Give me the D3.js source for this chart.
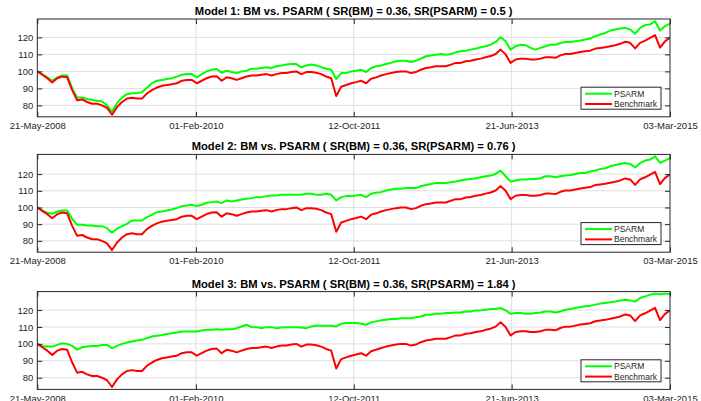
<!DOCTYPE html>
<html>
<head>
<meta charset="utf-8">
<script src="https://cdn.jsdelivr.net/npm/d3@7"></script>
<style>
  html, body { margin: 0; padding: 0; background: #fff; }
  svg { display: block; font-family: "Liberation Sans", Arial, Helvetica, sans-serif; }
</style>
</head>
<body>
<svg id="chart" width="701" height="401"></svg>
<script>
// Axis labels
const xTickLabels = ["21-May-2008", "01-Feb-2010", "12-Oct-2011", "21-Jun-2013", "03-Mar-2015"];
const yTicks = [80, 90, 100, 110, 120];
const seriesNames = ["PSARM", "Benchmark"];

// Sharpe ratios shown in the panel titles
const srBM = 0.36;
const srPSARM = [0.5, 0.76, 1.84];

// y-limits of each panel
const yLow = [73.3, 73.2, 73.1];
const yHigh = [130.8, 131.8, 130.9];

// Wealth paths (start = 100), sampled evenly from 21-May-2008 to 03-Mar-2015
const benchmark = [
  100, 98, 96, 93.5, 96, 97, 96.5, 89, 83, 83.5, 82, 81, 81, 80, 78.5, 74.5,
  79, 82, 84, 84.5, 84, 84, 87, 89, 90.5, 91.5, 92, 92.5, 93, 94.5, 95, 95,
  93, 94.5, 96, 97, 97.2, 94.5, 96.5, 96, 95, 96, 97, 97.6, 97.6, 98, 98.4, 97.6,
  98.4, 99, 99, 99.6, 100, 98.4, 99.6, 99.6, 99.2, 98.4, 97, 96, 85.5, 91, 92, 93,
  93.7, 94.5, 93, 95.7, 96.5, 97.6, 98.4, 99, 99.6, 100, 100, 99, 99.6, 101, 102, 102.4,
  103, 103, 103, 104, 105, 105, 106, 106.3, 107, 107.5, 108.3, 109, 110.2, 112.8, 110, 105,
  107, 107.5, 107.5, 107, 107, 107.5, 108.3, 108.3, 108, 109.4, 110.2, 110.2, 110.8, 111.4, 111.8, 112.2,
  113.4, 113.8, 114.2, 114.8, 115.4, 116.2, 117.4, 116.8, 113.5, 116.8, 118.1, 119.7, 121.3, 114, 117.7, 119.7
];

const psarm1 = [
  100, 98.4, 96.5, 94.5, 96.5, 97.6, 97.6, 90, 84.6, 84.6, 83.8, 83.2, 82.7, 82.3, 80, 76.4,
  81.3, 84.6, 86.6, 87.2, 87.2, 87.8, 90.2, 93.1, 94.5, 95, 95.5, 96, 96.9, 98, 98.4, 98.4,
  96.5, 98.4, 100, 101, 101.4, 99.2, 100.4, 99.6, 99, 100, 100.4, 101.6, 101.6, 102, 102.4, 102,
  103, 103.5, 104, 104.3, 104.3, 102.4, 103.5, 104, 103.5, 102.4, 101.6, 101, 95.5, 99, 99, 100,
  100.4, 101, 99.6, 102, 103, 103.5, 104.3, 105, 106, 106.3, 106.3, 105.5, 106.3, 107.5, 108.9, 109.4,
  109.8, 110.2, 109.8, 110.2, 111.2, 111.8, 112.2, 112.8, 113.4, 114.2, 114.8, 115.7, 117.3, 120.1, 117.7, 112.8,
  114.8, 115.7, 115.4, 113.8, 112.8, 113.8, 114.8, 115.7, 115.7, 116.7, 117.3, 117.3, 117.7, 118.1, 118.7, 119.3,
  120.7, 121.7, 122.6, 124, 124.6, 125.2, 125.6, 124.6, 122.2, 125.6, 127.2, 127.6, 129.5, 124, 126.6, 128
];

const psarm2 = [
  100, 98.2, 96.8, 96.2, 97.6, 98.2, 98.2, 93.2, 89.6, 89.6, 89.2, 89.2, 88.8, 88.8, 87.6, 84.9,
  87.3, 88.8, 90.2, 92.2, 92.2, 92.2, 94.2, 95.6, 97.2, 97.6, 98.2, 98.8, 99.6, 100.8, 101.2, 101.6,
  100.8, 101.6, 102.8, 103.2, 103.6, 102.6, 104.2, 103.6, 104.2, 104.8, 105.2, 105.6, 106.2, 106.2, 106.8, 107.2,
  107.2, 107.6, 107.6, 107.6, 107.6, 107.6, 108.2, 108.2, 107.6, 107.6, 108.2, 107.6, 104.2, 106.2, 106.8, 106.8,
  107.2, 107.6, 106.2, 108.2, 108.8, 109.2, 110.2, 110.8, 111.2, 111.2, 111.6, 111.6, 111.6, 112.7, 113.5, 114.1,
  114.7, 114.7, 114.7, 115.1, 115.5, 116.1, 116.7, 117.1, 117.5, 118.1, 118.7, 119.1, 120.1, 122.1, 118.7, 115.5,
  116.1, 116.7, 116.7, 117.1, 117.1, 117.5, 118.7, 118.7, 118.1, 118.7, 119.1, 119.5, 120.1, 120.7, 120.7, 121.5,
  122.1, 123.1, 123.5, 124.7, 125.5, 126.1, 126.7, 126.1, 124, 126.7, 128.1, 128.7, 130.7, 126.7, 128.1, 129.5
];

const psarm3 = [
  100, 98.8, 98.4, 98.4, 99.4, 100.4, 100, 98.8, 96.6, 98, 98.4, 98.8, 98.8, 99.4, 99.4, 97.4,
  98.8, 100, 100.8, 101.4, 102, 102.4, 103.4, 104.4, 104.8, 105.3, 105.9, 106.3, 106.7, 107.3, 107.3, 107.3,
  107.3, 107.9, 108.3, 108.3, 108.7, 108.3, 108.7, 108.7, 109.3, 110.3, 111.3, 109.9, 109.9, 109.3, 109.9, 109.9,
  109.3, 109.7, 109.9, 109.9, 109.9, 109.7, 109.3, 110.3, 110.7, 110.7, 110.7, 110.7, 110.3, 111.9, 112.3, 112.3,
  112.3, 111.9, 111.3, 112.7, 113.3, 113.9, 114.3, 114.7, 114.7, 115.2, 115.2, 115.2, 115.8, 116.2, 117.2, 117.2,
  117.8, 117.8, 118.2, 118.2, 118.6, 118.6, 119.2, 119.2, 119.8, 119.8, 120.2, 120.6, 120.6, 121.2, 119.8, 117.8,
  118.2, 118.2, 117.8, 117.8, 118.2, 118.6, 119.2, 119.2, 118.6, 119.2, 120.2, 120.6, 121.2, 121.8, 122.2, 122.6,
  123.2, 123.8, 124.2, 124.6, 125.1, 125.7, 126.1, 125.7, 125, 127.1, 128.1, 129.1, 129.7, 129.3, 129.7, 129.3
];

const psarmSeries = [psarm1, psarm2, psarm3];

// ---------- layout ----------
const svg = d3.select("#chart");
const left = 37.3, right = 670;
const panelTops = [19, 154.4, 291.6];
const panelH = 97.8;

const parseTick = d3.timeParse("%d-%b-%Y");
const fmtTick = d3.timeFormat("%d-%b-%Y");
const tickDates = xTickLabels.map(parseTick);
const t0 = tickDates[0], t1 = tickDates[tickDates.length - 1];
const n = benchmark.length;
const dates = d3.range(n).map(i => new Date(+t0 + (t1 - t0) * i / (n - 1)));

const x = d3.scaleTime().domain([t0, t1]).range([left, right]);

const axisColor = "#262626";
const gridColor = "#dfdfdf";

psarmSeries.forEach((ps, p) => {
  const top = panelTops[p], bottom = top + panelH;
  const y = d3.scaleLinear().domain([yLow[p], yHigh[p]]).range([bottom, top]);
  const g = svg.append("g");

  const clipId = "clip" + p;
  svg.append("clipPath").attr("id", clipId)
    .append("rect").attr("x", left).attr("y", top)
    .attr("width", right - left).attr("height", panelH);

  // grid
  g.append("g").selectAll("line").data(yTicks).join("line")
    .attr("x1", left).attr("x2", right)
    .attr("y1", d => y(d)).attr("y2", d => y(d))
    .attr("stroke", gridColor).attr("stroke-width", 1);
  g.append("g").selectAll("line").data(tickDates.slice(1, -1)).join("line")
    .attr("y1", top).attr("y2", bottom)
    .attr("x1", d => x(d)).attr("x2", d => x(d))
    .attr("stroke", gridColor).attr("stroke-width", 1);

  // series
  const line = d3.line().x((d, i) => x(dates[i])).y(d => y(d));
  const lines = g.append("g").attr("clip-path", `url(#${clipId})`);
  lines.append("path").datum(ps).attr("d", line)
    .attr("fill", "none").attr("stroke", "#00ff00").attr("stroke-width", 2)
    .attr("stroke-linejoin", "round");
  lines.append("path").datum(benchmark).attr("d", line)
    .attr("fill", "none").attr("stroke", "#ff0000").attr("stroke-width", 2)
    .attr("stroke-linejoin", "round");

  // axes (ticks point inward)
  const styleAxis = sel => {
    sel.select(".domain").remove();
    sel.selectAll(".tick line").attr("stroke", axisColor);
    sel.selectAll(".tick text").attr("fill", axisColor)
      .style("font-size", "9.5px").style("font-family", "'Liberation Sans', Arial, sans-serif");
  };
  g.append("g").attr("transform", `translate(0,${bottom})`)
    .call(d3.axisBottom(x).tickValues(tickDates).tickFormat(fmtTick).tickSize(-5).tickPadding(5.5))
    .call(styleAxis);
  g.append("g").attr("transform", `translate(0,${top})`)
    .call(d3.axisTop(x).tickValues(tickDates).tickFormat("").tickSize(-5))
    .call(styleAxis);
  g.append("g").attr("transform", `translate(${left},0)`)
    .call(d3.axisLeft(y).tickValues(yTicks).tickSize(-5).tickPadding(4))
    .call(styleAxis);
  g.append("g").attr("transform", `translate(${right},0)`)
    .call(d3.axisRight(y).tickValues(yTicks).tickFormat("").tickSize(-5))
    .call(styleAxis);

  // box
  g.append("rect").attr("x", left).attr("y", top)
    .attr("width", right - left).attr("height", panelH)
    .attr("fill", "none").attr("stroke", axisColor).attr("stroke-width", 1);

  // title
  g.append("text").attr("x", (left + right) / 2).attr("y", top - 4)
    .attr("text-anchor", "middle").attr("font-weight", "bold")
    .style("font-size", "11.2px").attr("fill", "#000")
    .text(`Model ${p + 1}: BM vs. PSARM ( SR(BM) = ${srBM}, SR(PSARM) = ${srPSARM[p]} )`);

  // legend
  const lw = 80, lh = 22;
  const lx = right - 89, ly = bottom - 29.6;
  const lg = g.append("g").attr("transform", `translate(${lx},${ly})`);
  lg.append("rect").attr("width", lw).attr("height", lh)
    .attr("fill", "#fff").attr("stroke", axisColor).attr("stroke-width", 1);
  const colors = ["#00ff00", "#ff0000"];
  seriesNames.forEach((name, i) => {
    const ry = 6.5 + i * 10.3;
    lg.append("line").attr("x1", 4).attr("x2", 31).attr("y1", ry).attr("y2", ry)
      .attr("stroke", colors[i]).attr("stroke-width", 2);
    lg.append("text").attr("x", 33).attr("y", ry).attr("dy", "0.35em")
      .style("font-size", "8.5px").attr("fill", axisColor).text(name);
  });
});
</script>
</body>
</html>
